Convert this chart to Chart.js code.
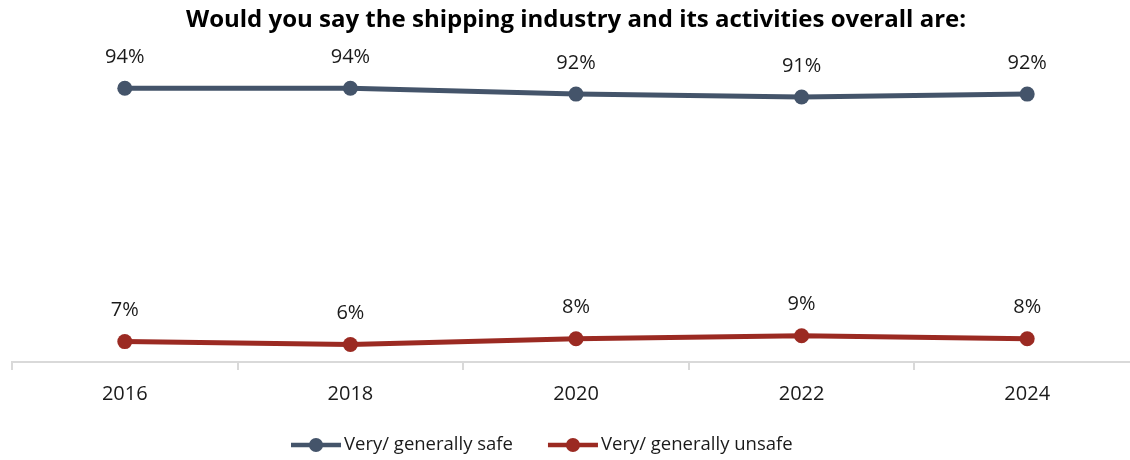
<!DOCTYPE html>
<html>
<head>
<meta charset="utf-8">
<script src="https://cdn.jsdelivr.net/npm/chart.js@4.4.1/dist/chart.umd.min.js"></script>
<style>
  html, body { margin: 0; padding: 0; background: #fff; overflow: hidden; }
  #wrap { width: 1156px; height: 460px; }
</style>
</head>
<body>
<div id="wrap"><canvas id="chart"></canvas></div>
<script>
    // --- Data ---
    const years = ['2016', '2018', '2020', '2022', '2024'];
    const safeValues = [94, 94, 92, 91, 92];
    const unsafeValues = [7, 6, 8, 9, 8];

    const FONT = '"Open Sans"';
    const TEXT = '#1a1a1a';
    const BLUE = '#44546a';
    const RED = '#9b2a22';

    // value labels above each point
    const valueLabels = {
        id: 'valueLabels',
        afterDatasetsDraw(chart) {
            const ctx = chart.ctx;
            ctx.save();
            ctx.font = `20px ${FONT}`;
            ctx.fillStyle = TEXT;
            ctx.textAlign = 'center';
            ctx.textBaseline = 'middle';
            chart.data.datasets.forEach((ds, i) => {
                chart.getDatasetMeta(i).data.forEach((pt, j) => {
                    ctx.fillText(ds.data[j] + '%', pt.x, pt.y - 31);
                });
            });
            ctx.restore();
        }
    };

    // bottom legend: line-with-dot marker, then the series name
    const lineLegend = {
        id: 'lineLegend',
        afterDraw(chart) {
            const ctx = chart.ctx;
            const y = 445;
            let x = 291;
            ctx.save();
            ctx.font = `18.5px ${FONT}`;
            ctx.textBaseline = 'middle';
            ctx.textAlign = 'left';
            chart.data.datasets.forEach(ds => {
                ctx.strokeStyle = ds.borderColor;
                ctx.fillStyle = ds.borderColor;
                ctx.lineWidth = 4.5;
                ctx.beginPath();
                ctx.moveTo(x, y);
                ctx.lineTo(x + 50, y);
                ctx.stroke();
                ctx.beginPath();
                ctx.arc(x + 25, y, 7, 0, Math.PI * 2);
                ctx.fill();
                x += 53;
                ctx.fillStyle = TEXT;
                ctx.fillText(ds.label, x, y);
                x += ctx.measureText(ds.label).width + 35;
            });
            ctx.restore();
        }
    };

    new Chart(document.getElementById('chart'), {
        type: 'line',
        data: {
            labels: years,
            datasets: [
                {
                    label: 'Very/ generally safe',
                    data: safeValues,
                    borderColor: BLUE,
                    backgroundColor: BLUE,
                    pointBorderColor: BLUE,
                    pointBackgroundColor: BLUE,
                    borderWidth: 5,
                    pointRadius: 7.5,
                    pointBorderWidth: 0,
                    tension: 0
                },
                {
                    label: 'Very/ generally unsafe',
                    data: unsafeValues,
                    borderColor: RED,
                    backgroundColor: RED,
                    pointBorderColor: RED,
                    pointBackgroundColor: RED,
                    borderWidth: 5,
                    pointRadius: 7.5,
                    pointBorderWidth: 0,
                    tension: 0
                }
            ]
        },
        options: {
            responsive: true,
            maintainAspectRatio: false,
            animation: false,
            layout: { padding: { left: 12, right: 16, top: 0, bottom: 38 } },
            scales: {
                x: {
                    offset: true,
                    grid: {
                        offset: true,
                        drawOnChartArea: false,
                        drawTicks: true,
                        tickLength: 8,
                        color: '#d9d9d9',
                        lineWidth: 2
                    },
                    border: { display: true, color: '#d9d9d9', width: 2 },
                    ticks: {
                        color: TEXT,
                        font: { family: FONT, size: 20 },
                        padding: 12
                    },
                    afterFit(scale) { scale.height = 60; }
                },
                y: {
                    display: false,
                    min: 0,
                    max: 100
                }
            },
            plugins: {
                title: {
                    display: true,
                    text: 'Would you say the shipping industry and its activities overall are:',
                    color: '#000',
                    font: { family: FONT, size: 24, weight: 'bold' },
                    padding: { top: 6, bottom: 36 }
                },
                legend: { display: false },
                tooltip: { enabled: false }
            }
        },
        plugins: [valueLabels, lineLegend]
    });
</script>
</body>
</html>
